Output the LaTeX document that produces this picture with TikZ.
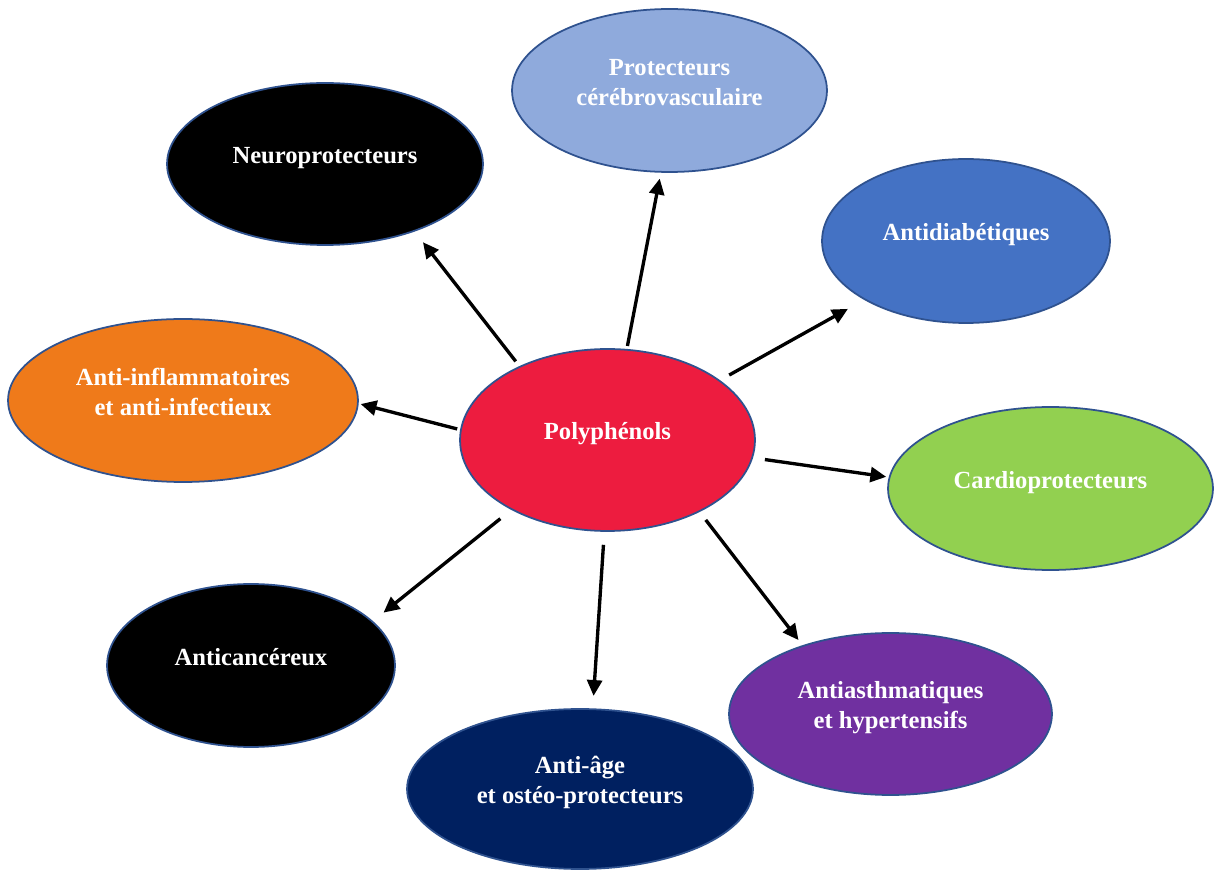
\documentclass[tikz,border=0pt]{standalone}
\usepackage{fontspec}
\setmainfont{Liberation Serif}
\usepackage{xcolor}
\definecolor{cEdge}{HTML}{2F528F}
\definecolor{cPoly}{HTML}{ED1C3F}
\definecolor{cCerebro}{HTML}{8FAADC}
\definecolor{cDiab}{HTML}{4472C4}
\definecolor{cInflam}{HTML}{EF7A1A}
\definecolor{cCardio}{HTML}{92D050}
\definecolor{cAge}{HTML}{002060}
\definecolor{cAsthma}{HTML}{7030A0}
\usepackage{tikz}
\usetikzlibrary{shapes.geometric,arrows.meta}
% texte un peu au-dessus du centre, comme dans l'original
\newcommand{\upline}[1]{\raisebox{3.5pt}[\height][\depth]{\begin{tabular}{@{}c@{}}#1\end{tabular}}}
\tikzset{
  node-bubble/.style={ellipse,draw=cEdge,line width=1pt,text=white,
    align=center,inner sep=0pt,font=\fontsize{14}{17}\selectfont\bfseries},
  arrow/.style={-{Triangle[length=9pt,width=8.5pt]},line width=1.9pt,draw=black},
}

\begin{document}
\begin{tikzpicture}[x=0.02cm,y=-0.02cm]
  \useasboundingbox (0,0) rectangle (1215,871);
  \node[node-bubble,fill=cPoly,minimum width=5.9cm,minimum height=3.64cm] (poly) at (607.5,440) {\upline{Polyphénols}};
  \node[node-bubble,fill=black,minimum width=6.32cm,minimum height=3.24cm] (neuro) at (325,164) {\upline{Neuroprotecteurs}};
  \node[node-bubble,fill=cCerebro,minimum width=6.3cm,minimum height=3.26cm] (cerebro) at (669.5,90.5) {\upline{Protecteurs\\cérébrovasculaire}};
  \node[node-bubble,fill=cDiab,minimum width=5.76cm,minimum height=3.28cm] (diab) at (966,241) {\upline{Antidiabétiques}};
  \node[node-bubble,fill=cInflam,minimum width=7cm,minimum height=3.26cm] (inflam) at (183,400.5) {\upline{Anti-inflammatoires\\et anti-infectieux}};
  \node[node-bubble,fill=cCardio,minimum width=6.5cm,minimum height=3.26cm] (cardio) at (1050.5,488.5) {\upline{Cardioprotecteurs}};
  \node[node-bubble,fill=black,minimum width=5.76cm,minimum height=3.26cm] (cancer) at (251,665.5) {\upline{Anticancéreux}};
  \node[node-bubble,fill=cAge,minimum width=6.92cm,minimum height=3.2cm] (age) at (580,789) {\upline{Anti-âge\\et ostéo-protecteurs}};
  \node[node-bubble,fill=cAsthma,minimum width=6.46cm,minimum height=3.24cm] (asthma) at (890.5,714) {\upline{Antiasthmatiques\\et hypertensifs}};
  % fleches depuis le noyau
  \draw[arrow,shorten <=0.12cm,shorten >=0.27cm] (poly.140) -- (neuro.-37);
  \draw[arrow,shorten <=0.06cm,shorten >=0.12cm] (poly.78) -- (cerebro.-96);
  \draw[arrow,shorten <=0.21cm,shorten >=0.37cm] (poly.28) -- (diab.-150);
  \draw[arrow,shorten <=0.06cm,shorten >=0.04cm] (poly.176) -- (inflam.-1);
  \draw[arrow,shorten <=0.24cm,shorten >=0.05cm] (poly.-7) -- (cardio.176);
  \draw[arrow,shorten <=0.28cm,shorten >=0.27cm] (poly.-144) -- (cancer.20);
  \draw[arrow,shorten <=0.26cm,shorten >=0.25cm] (poly.-92) -- (age.81);
  \draw[arrow,shorten <=0.2cm,shorten >=0.13cm] (poly.-38) -- (asthma.142);
\end{tikzpicture}
\end{document}
